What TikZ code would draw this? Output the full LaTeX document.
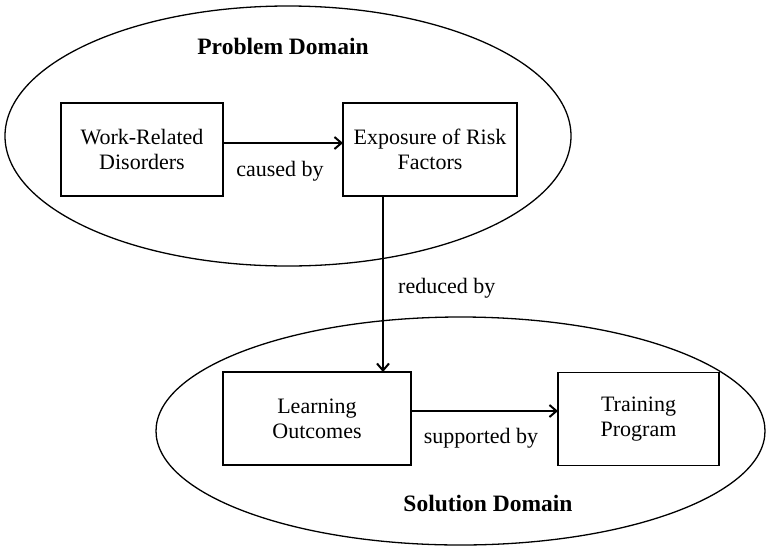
\documentclass[tikz,border=0pt]{standalone}
\usepackage{fontspec}
\setmainfont{Liberation Serif}
\usetikzlibrary{shapes.geometric,arrows.meta}
\begin{document}
\begin{tikzpicture}[x=1pt,y=-1pt,
  domainshape/.style={draw, ellipse, line width=1.3pt, inner sep=0pt, outer sep=0pt},
  conceptbox/.style={draw, line width=1.8pt, inner sep=0pt, outer sep=0pt, align=center,
    font=\fontsize{22}{25}\selectfont},
  lbl/.style={inner sep=0pt, anchor=base, font=\fontsize{22}{25}\selectfont},
  titletext/.style={inner sep=0pt, anchor=base, font=\fontsize{23.5}{26}\selectfont\bfseries},
  arr/.style={line width=1.8pt, -{Straight Barb[length=7pt,width=12pt,line width=2pt]}}]
\useasboundingbox (0,0) rectangle (766,547);
% domains
\node[domainshape, minimum width=566pt, minimum height=260pt] (pd) at (288,136) {};
\node[domainshape, minimum width=609pt, minimum height=228pt] (sd) at (460.5,431) {};
% titles
\node[titletext] (pdt) at (283,54) {Problem Domain};
\node[titletext] (sdt) at (488,511.5) {Solution Domain};
% boxes
\node[conceptbox, minimum width=162pt, minimum height=93pt] (wrd) at (142,149.5) {Work-Related\\Disorders};
\node[conceptbox, minimum width=174pt, minimum height=93pt] (erf) at (430,149.5) {Exposure of Risk\\Factors};
\node[conceptbox, minimum width=188pt, minimum height=93pt] (lo) at (317,418.5) {Learning\\Outcomes};
\node[conceptbox, minimum width=161pt, minimum height=93pt] (tp) at (638.5,419) {Training\\Program};
% connectors
\coordinate (vx) at (383,0);
\draw[arr] ([yshift=6.5pt]wrd.east) -- ([yshift=6.5pt]erf.west);
\draw[arr] (erf.south -| vx) -- (lo.north -| vx);
\draw[arr] ([yshift=7.5pt]lo.east) -- ([yshift=7.5pt]lo.east -| tp.west);
% labels
\node[lbl] (l1) at (280,176.7) {caused by};
\node[lbl, anchor=base west] (l2) at (398,293) {reduced by};
\node[lbl] (l3) at (481,443) {supported by};
\end{tikzpicture}
\end{document}
